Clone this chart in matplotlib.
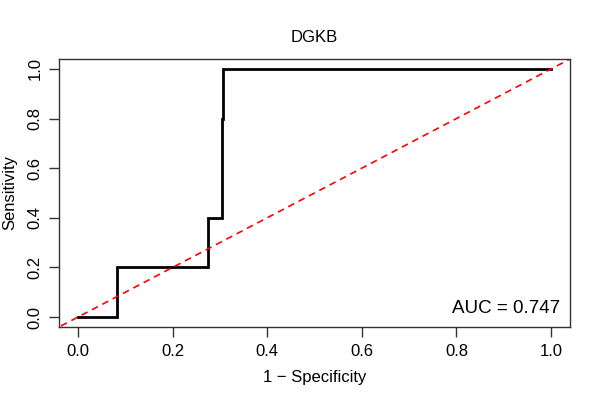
import matplotlib
matplotlib.use("Agg")
import matplotlib.pyplot as plt

# ROC curve points (1 - specificity, sensitivity)
fpr = [0.0, 0.083, 0.083, 0.274, 0.274, 0.304, 0.304, 0.307, 0.307, 1.0]
tpr = [0.0, 0.0, 0.2, 0.2, 0.4, 0.4, 0.8, 0.8, 1.0, 1.0]
ticks = [0.0, 0.2, 0.4, 0.6, 0.8, 1.0]
tick_labels = ["0.0", "0.2", "0.4", "0.6", "0.8", "1.0"]
title = "DGKB"
auc_text = "AUC = 0.747"

plt.rcParams["font.family"] = ["Liberation Sans", "DejaVu Sans"]

fig = plt.figure(figsize=(6, 4), dpi=100)
ax = fig.add_axes([59 / 600, 1 - 327 / 400, 511 / 600, 268 / 400])

ax.plot(fpr, tpr, color="black", lw=2, solid_joinstyle="miter")
ax.plot([-1, 2], [-1, 2], color="red", lw=1.2, ls=(0, (4, 3)))

ax.set_xlim(-0.04, 1.04)
ax.set_ylim(-0.04, 1.04)
ax.set_xticks(ticks)
ax.set_xticklabels(tick_labels)
ax.set_yticks(ticks)
ax.set_yticklabels(tick_labels, rotation=90, va="center")
ax.tick_params(direction="out", length=7, width=1, labelsize=12,
               colors="#333333", labelcolor="black", pad=5)
for s in ax.spines.values():
    s.set_color("#333333")
    s.set_linewidth(1)

ax.set_xlabel("1 \u2212 Specificity", fontsize=12, labelpad=8)
ax.set_ylabel("Sensitivity", fontsize=12, labelpad=7)
ax.set_title(title, fontsize=12, pad=12)

ax.text(1.019, 0.017, auc_text, ha="right", va="baseline", fontsize=13.5)

fig.savefig("out.png", dpi=100)
